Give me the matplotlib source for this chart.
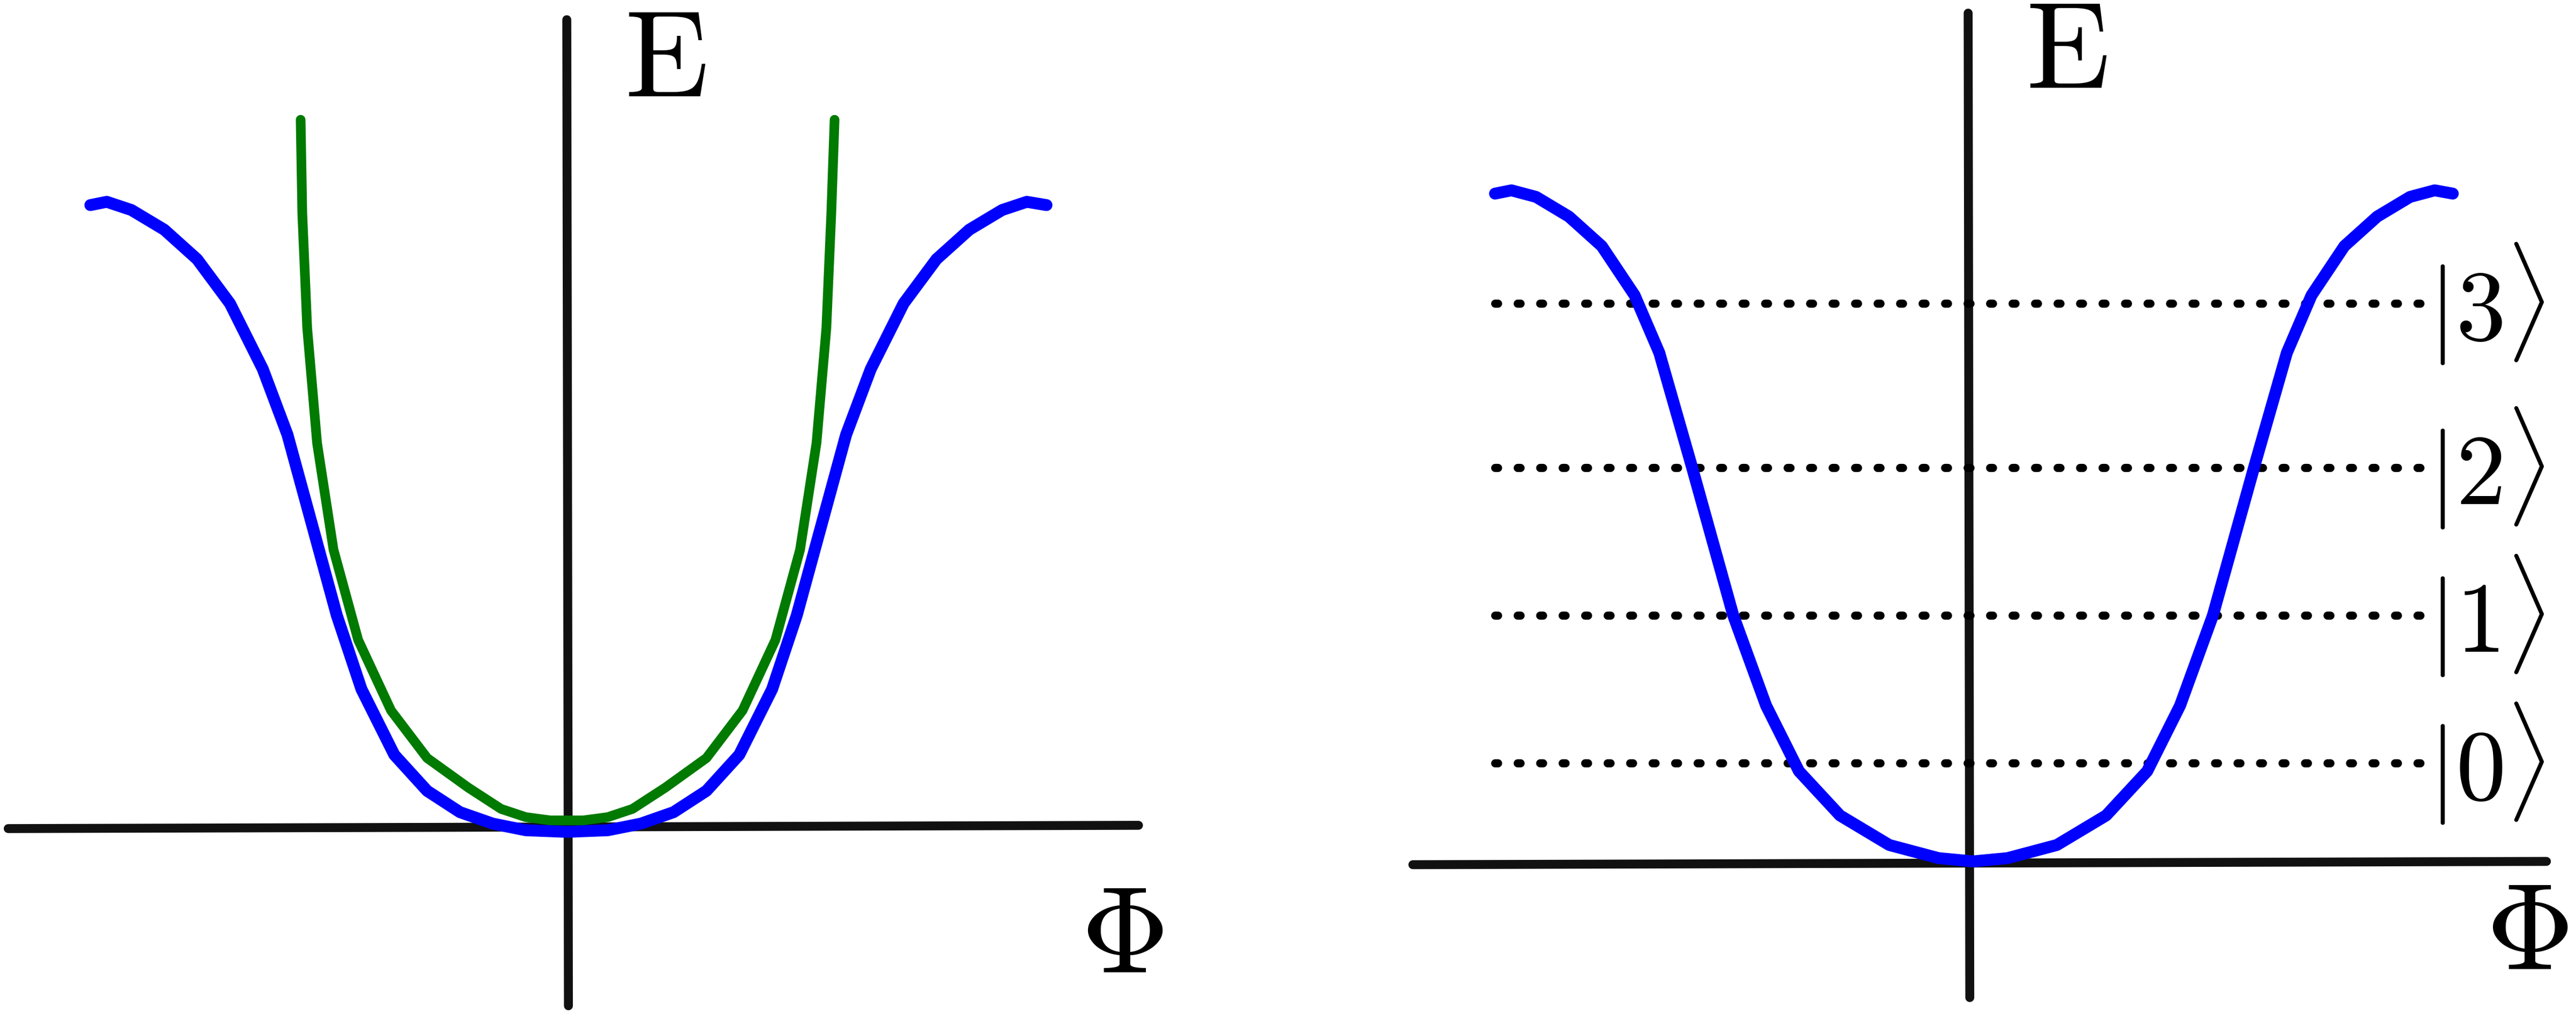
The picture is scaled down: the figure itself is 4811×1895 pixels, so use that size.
import matplotlib
matplotlib.use("Agg")
import matplotlib.pyplot as plt

plt.rcParams['mathtext.fontset'] = 'cm'

# coordinates in reference pixel space (1568 x 618 reduced view)
blue_left_x = [55, 65, 80, 100, 120, 140, 160, 175, 190, 205, 220, 240, 260, 280, 300, 320, 345,
               370, 390, 410, 430, 450, 470, 485, 500, 515, 530, 550, 570, 590, 610, 625, 637]
blue_left_y = [125, 123, 128, 140, 158, 185, 225, 265, 320, 375, 420, 460, 482, 495, 502, 506, 507,
               506, 502, 495, 482, 460, 420, 375, 320, 265, 225, 185, 158, 140, 128, 123, 125]

green_x = [183, 184, 187, 193, 203, 218, 238, 260, 285, 305, 320, 335, 345,
           355, 370, 385, 405, 430, 452, 472, 487, 497, 503, 506, 508]
green_y = [73, 130, 200, 270, 335, 390, 433, 462, 480, 493, 498, 500, 500,
           500, 498, 493, 480, 462, 433, 390, 335, 270, 200, 130, 73]

blue_right_x = [910, 920, 935, 955, 975, 995, 1010, 1030, 1055, 1075, 1095, 1120, 1150, 1180, 1201,
                1222, 1252, 1282, 1307, 1327, 1347, 1372, 1392, 1407, 1427, 1447, 1467, 1482, 1493]
blue_right_y = [118, 116, 120, 132, 150, 180, 215, 285, 375, 430, 470, 497, 515, 523, 525,
                523, 515, 497, 470, 430, 375, 285, 215, 180, 150, 132, 120, 116, 118]

level_y = [465, 375, 285, 185]
level_labels = [r'$|0\rangle$', r'$|1\rangle$', r'$|2\rangle$', r'$|3\rangle$']

fig = plt.figure(figsize=(48.11, 18.95), dpi=100)
ax = fig.add_axes([0, 0, 1, 1])
ax.set_xlim(0, 1568)
ax.set_ylim(618, 0)
ax.axis('off')

axis_kw = dict(color='#111111', lw=12, solid_capstyle='round')
curve_kw = dict(solid_capstyle='round', solid_joinstyle='round')
# left panel axes
ax.plot([5, 693], [505, 503], **axis_kw)
ax.plot([345, 346], [12, 613], **axis_kw)
ax.plot(green_x, green_y, color='#007a00', lw=13, zorder=3, **curve_kw)
ax.plot(blue_left_x, blue_left_y, color='#0000ff', lw=16, zorder=4, **curve_kw)
ax.text(405, 38, r'$\mathrm{E}$', fontsize=165, ha='center', va='center')
ax.text(683, 572, r'$\Phi$', fontsize=165, ha='center', va='center')

# right panel axes
ax.plot([860, 1550], [527, 525], **axis_kw)
ax.plot([1198, 1199], [8, 608], **axis_kw)
for y, lab in zip(level_y, level_labels):
    ax.plot([910, 1475], [y, y], color='black', lw=11, linestyle=(0, (0.35, 2.4)),
            dash_capstyle='round', zorder=2)
    ax.text(1478, y, lab, fontsize=135, ha='left', va='center')
ax.plot(blue_right_x, blue_right_y, color='#0000ff', lw=16, zorder=4, **curve_kw)
ax.text(1258, 33, r'$\mathrm{E}$', fontsize=165, ha='center', va='center')
ax.text(1538, 570, r'$\Phi$', fontsize=165, ha='center', va='center')

fig.savefig('out.png', dpi=100)
